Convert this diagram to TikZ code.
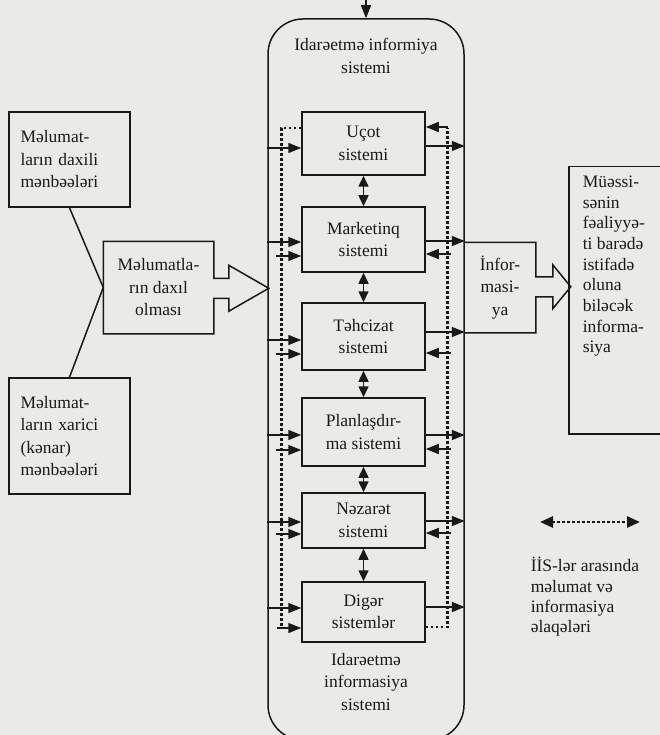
\documentclass[tikz,border=0pt]{standalone}
\usepackage{fontspec}
\setmainfont{Liberation Serif}
\usepackage{tikz}
\usetikzlibrary{arrows.meta,calc}
\definecolor{paper}{RGB}{234,234,231}
\definecolor{ink}{RGB}{25,25,25}
\tikzstyle{line} = [draw, -{Triangle[length=13pt,width=10pt]}]
\tikzstyle{lineboth} = [draw, {Triangle[length=11pt,width=10pt]}-{Triangle[length=11pt,width=10pt]}]
\tikzstyle{linedot} = [draw, line width=2.8pt, dash pattern=on 2.6pt off 2.4pt]
\tikzstyle{linedotboth} = [linedot, {Triangle[length=13pt,width=11pt]}-{Triangle[length=13pt,width=11pt]}]
\tikzstyle{sysbox} = [draw, align=center, minimum width=123pt, inner sep=0pt]
\tikzstyle{srcbox} = [draw, align=left, minimum width=121pt, text width=98pt]

\begin{document}
\begin{tikzpicture}[x=1pt, y=-1pt, line width=1.5pt, color=ink,
    every node/.style={font=\fontsize{17.5}{22.5}\selectfont}]
    \useasboundingbox (0,0) rectangle (660,735);
    \fill[paper] (0,0) rectangle (660,735);
    \clip (0,0) rectangle (660,735);
    % idaretme informasiya sistemi
    \node[draw, rounded corners=35pt, minimum width=196pt, minimum height=721pt] (iis) at (366,379.5) {};
    \node[align=center] (iistop) at (366,56) {Idarəetmə informiya\\sistemi};
    \node[align=center] (iisbot) at (366,682) {Idarəetmə\\informasiya\\sistemi};
    \coordinate (topin) at (366,-4);
    \path [line] (topin) -- (iis.north);
    % sistemler
    \node[sysbox, minimum height=63pt] (ucot) at (363.5,143.5) {Uçot\\sistemi};
    \node[sysbox, minimum height=65pt] (mark) at (363.5,239.5) {Marketinq\\sistemi};
    \node[sysbox, minimum height=67pt] (tehc) at (363.5,336.5) {Təhcizat\\sistemi};
    \node[sysbox, minimum height=68pt] (plan) at (363.5,432) {Planlaşdır-\\ma sistemi};
    \node[sysbox, minimum height=55pt] (nez) at (363.5,520.5) {Nəzarət\\sistemi};
    \node[sysbox, minimum height=60pt] (dig) at (363.5,612) {Digər\\sistemlər};
    \path [lineboth] (ucot) -- (mark);
    \path [lineboth] (mark) -- (tehc);
    \path [lineboth] (tehc) -- (plan);
    \path [lineboth] (plan) -- (nez);
    \path [lineboth] (nez) -- (dig);
    % daxil olan
    \path [line] ($(iis.west |- ucot.west)+(0,4.5)$) -- ($(ucot.west)+(0,4.5)$);
    \path [line] ($(iis.west |- mark.west)+(0,2.5)$) -- ($(mark.west)+(0,2.5)$);
    \path [line] ($(iis.west |- tehc.west)+(0,3.5)$) -- ($(tehc.west)+(0,3.5)$);
    \path [line] ($(iis.west |- plan.west)+(0,3)$) -- ($(plan.west)+(0,3)$);
    \path [line] ($(iis.west |- nez.west)+(0,1.5)$) -- ($(nez.west)+(0,1.5)$);
    \path [line] ($(iis.west |- dig.west)+(0,-4)$) -- ($(dig.west)+(0,-4)$);
    \path [line] ($(mark.west)+(-25,16.5)$) -- ($(mark.west)+(0,16.5)$);
    \path [line] ($(tehc.west)+(-25,17.5)$) -- ($(tehc.west)+(0,17.5)$);
    \path [line] ($(plan.west)+(-25,18)$) -- ($(plan.west)+(0,18)$);
    \path [line] ($(nez.west)+(-25,13.5)$) -- ($(nez.west)+(0,13.5)$);
    \path [line] ($(dig.west)+(-24,16)$) -- ($(dig.west)+(0,16)$);
    \path [linedot] ($(ucot.west)+(0,-15.5)$) -| ($(dig.west)+(-20,14)$);
    % cixan
    \path [line] ($(ucot.east)+(0,2.5)$) -- ($(iis.east |- ucot.east)+(0,2.5)$);
    \path [line] ($(mark.east)+(0,1.5)$) -- ($(iis.east |- mark.east)+(0,1.5)$);
    \path [line] ($(tehc.east)+(0,-4.5)$) -- ($(iis.east |- tehc.east)+(0,-4.5)$);
    \path [line] ($(plan.east)+(0,3)$) -- ($(iis.east |- plan.east)+(0,3)$);
    \path [line] ($(nez.east)+(0,0.5)$) -- ($(iis.east |- nez.east)+(0,0.5)$);
    \path [line] ($(dig.east)+(0,-5)$) -- ($(iis.east |- dig.east)+(0,-5)$);
    \path [line] ($(ucot.east)+(22,-16.5)$) -- ($(ucot.east)+(0,-16.5)$);
    \path [line] ($(mark.east)+(25,14.5)$) -- ($(mark.east)+(0,14.5)$);
    \path [line] ($(tehc.east)+(25,16.5)$) -- ($(tehc.east)+(0,16.5)$);
    \path [line] ($(plan.east)+(25,17)$) -- ($(plan.east)+(0,17)$);
    \path [line] ($(nez.east)+(25,12.5)$) -- ($(nez.east)+(0,12.5)$);
    \path [linedot] ($(dig.east)+(0,15)$) -| ($(ucot.east)+(22,-15)$);
    % menbeler
    \node[srcbox, minimum height=95pt] (daxili) at (69.5,159.5) {Məlumat-\\ların daxili\\mənbəələri};
    \node[srcbox, minimum height=116pt] (xarici) at (69.5,436) {Məlumat-\\ların xarici\\(kənar)\\mənbəələri};
    \node[minimum width=109pt, minimum height=91pt, align=center] (daxil) at (158.5,287.5) {Məlumatla-\\rın daxıl\\olması};
    \draw (daxil.north east) -- (daxil.north west) -- (daxil.south west) -- (daxil.south east)
        -- ++(0,-35.5) -- ++(15,0) -- ++(0,13) -- ++(40,-23) -- ++(-40,-23) -- ++(0,13) -- ++(-15,0) -- cycle;
    \draw (daxili.south) -- (daxil.west);
    \draw (xarici.north) -- (daxil.west);
    % informasiya
    \node[minimum width=70pt, minimum height=89pt, align=center] (inf) at (500,287.5) {İnfor-\\masi-\\ya};
    \draw (iis.east |- inf.north) -- (inf.north east) -- ++(0,34.5) -- ++(17,0) -- ++(0,-12) -- ++(18,22)
        -- ++(-18,22) -- ++(0,-12) -- ++(-17,0) -- (inf.south east) -- (iis.east |- inf.south);
    \node[draw, minimum width=100pt, minimum height=267pt, anchor=north west] (mues) at (568,166) {};
    \node[anchor=north west, align=left, inner sep=0pt, font=\fontsize{17.5}{20.7}\selectfont] (muestext)
        at ($(mues.north west)+(14,9)$) {Müəssi-\\sənin\\fəaliyyə-\\ti barədə\\istifadə\\oluna\\biləcək\\informa-\\siya};
    % legend
    \coordinate (legl) at (540,522);
    \coordinate (legr) at (640,522);
    \path [linedotboth] (legl) -- (legr);
    \node[anchor=west, align=left, inner sep=0pt, font=\fontsize{17.5}{20.4}\selectfont] (legtext)
        at (530,597) {İİS-lər arasında\\məlumat və\\informasiya\\əlaqələri};
\end{tikzpicture}
\end{document}
